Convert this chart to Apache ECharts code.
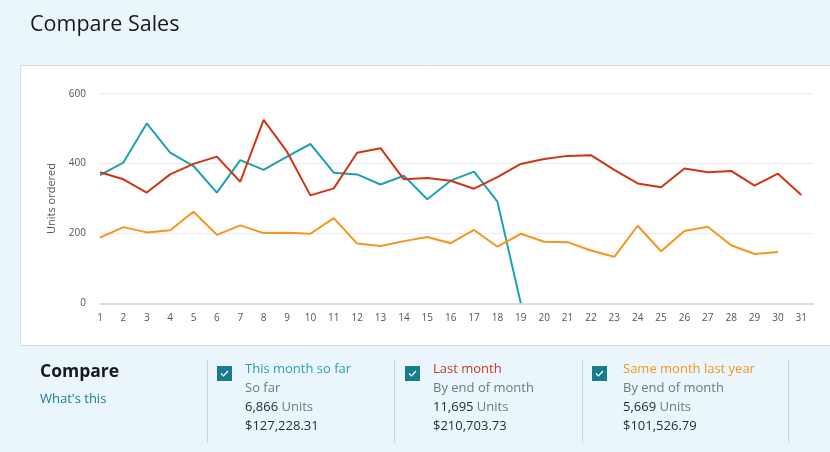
<!DOCTYPE html>
<html>
<head>
<meta charset="utf-8">
<script src="https://cdn.jsdelivr.net/npm/echarts@6/dist/echarts.min.js"></script>
<style>
html,body{margin:0;padding:0;background:#eaf5fc;}
#c{width:830px;height:452px;}
</style>
</head>
<body>
<div id="c"></div>
<script>
var days = [1,2,3,4,5,6,7,8,9,10,11,12,13,14,15,16,17,18,19,20,21,22,23,24,25,26,27,28,29,30,31];
var yTicks = [0,200,400,600];
var thisMonth = [367,403,515,431,393,317,410,382,420,456,374,369,340,365,298,351,377,291,0];
var lastMonth = [375,355,317,369,399,420,348,525,434,309,329,431,444,355,359,351,328,361,399,413,422,424,382,343,332,386,375,379,337,371,310];
var lastYear = [188,218,203,209,262,196,223,201,202,199,244,171,164,178,190,172,210,162,199,176,175,151,133,222,149,207,219,166,141,147];

var seriesNames = ['This month so far','Last month','Same month last year'];
var seriesSub = ['So far','By end of month','By end of month'];
var seriesUnits = ['6,866','11,695','5,669'];
var seriesSales = ['$127,228.31','$210,703.73','$101,526.79'];

var TEAL = '#1ea2ad', RED = '#cf3512', ORANGE = '#f7941d';
var nameColors = ['#2a9fb0', '#c83a1e', '#f0961e'];

function pairs(arr){ return arr.map(function(v,i){ return [days[i], v]; }); }

var font = '"Open Sans", "Noto Sans", sans-serif';
var graphics = [
  {type:'rect', shape:{x:20.5,y:65.5,width:830,height:280}, style:{fill:'#ffffff', stroke:'#d5dde0', lineWidth:1}, z:-10},
  {type:'text', x:30, y:25, style:{text:'Compare Sales', fill:'#16191f', font:'21.5px ' + font, textVerticalAlign:'middle'}},
  {type:'text', x:40, y:372, style:{text:'Compare', fill:'#16191f', font:'bold 17.5px ' + font, textVerticalAlign:'middle'}},
  {type:'text', x:40, y:399, style:{text:"What's this", fill:'#147f90', font:'13px ' + font, textVerticalAlign:'middle'}}
];
var dividers = [207, 394, 582, 788];
dividers.forEach(function(x){
  graphics.push({type:'line', shape:{x1:x+0.5,y1:360,x2:x+0.5,y2:443}, style:{stroke:'#cbd5d8', lineWidth:1}});
});
var boxX = [217, 405, 592];
var textX = [245, 433, 623];
for (var i = 0; i < 3; i++) {
  graphics.push({type:'rect', shape:{x:boxX[i], y:366, width:15, height:15}, style:{fill:'#177d8c'}});
  graphics.push({type:'polyline', shape:{points:[[boxX[i]+4,373.5],[boxX[i]+6.5,376],[boxX[i]+11,371]]}, style:{stroke:'#ffffff', lineWidth:1.2, fill:null}});
  graphics.push({type:'text', x:textX[i], y:369, style:{text:seriesNames[i], fill:nameColors[i], font:'13px ' + font, textVerticalAlign:'middle'}});
  graphics.push({type:'text', x:textX[i], y:388, style:{text:seriesSub[i], fill:'#6f7b7d', font:'13px ' + font, textVerticalAlign:'middle'}});
  graphics.push({type:'text', x:textX[i], y:407, style:{
    text:'{a|' + seriesUnits[i] + '} {b|Units}',
    textVerticalAlign:'middle',
    rich:{a:{fill:'#232f3e', font:'13px ' + font}, b:{fill:'#6f7b7d', font:'13px ' + font}}
  }});
  graphics.push({type:'text', x:textX[i], y:426, style:{text:seriesSales[i], fill:'#232f3e', font:'13px ' + font, textVerticalAlign:'middle'}});
}

var chart = echarts.init(document.getElementById('c'), null, {renderer:'canvas'});
chart.setOption({
  animation:false,
  backgroundColor:'transparent',
  textStyle:{fontFamily:font},
  grid:{left:100, right:17, top:93.7, bottom:148.7, containLabel:false},
  xAxis:{
    type:'value', min:1, max:31.5, interval:1,
    axisLine:{show:true, lineStyle:{color:'#dddddd', width:2}},
    axisTick:{show:false},
    splitLine:{show:false},
    axisLabel:{color:'#555555', fontSize:10, margin:10, showMaxLabel:false,
      formatter:function(v){ return (Math.round(v) === v && v <= 31) ? String(v) : ''; }}
  },
  yAxis:{
    type:'value', min:yTicks[0], max:yTicks[yTicks.length-1], interval:200,
    name:'Units ordered', nameLocation:'middle', nameGap:43, nameRotate:90,
    nameTextStyle:{color:'#555555', fontSize:11},
    axisLine:{show:false}, axisTick:{show:false},
    axisLabel:{color:'#555555', fontSize:10, margin:14},
    splitLine:{lineStyle:{color:'#ebebeb', width:1}}
  },
  series:[
    {name:seriesNames[0], type:'line', data:pairs(thisMonth), symbol:'none', lineStyle:{color:TEAL, width:2}, itemStyle:{color:TEAL}},
    {name:seriesNames[2], type:'line', data:pairs(lastYear), symbol:'none', lineStyle:{color:ORANGE, width:2}, itemStyle:{color:ORANGE}},
    {name:seriesNames[1], type:'line', data:pairs(lastMonth), symbol:'none', lineStyle:{color:RED, width:2}, itemStyle:{color:RED}}
  ],
  graphic:graphics
});
</script>
</body>
</html>
